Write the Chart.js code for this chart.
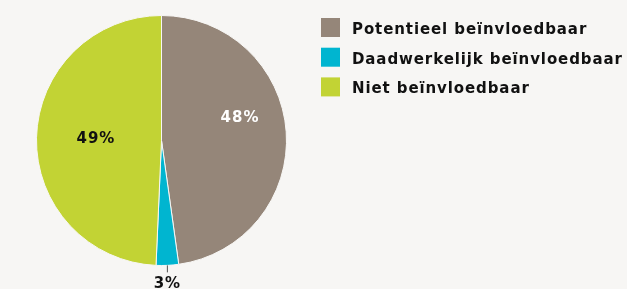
<!DOCTYPE html>
<html>
<head>
<meta charset="utf-8">
<script src="https://cdn.jsdelivr.net/npm/chart.js@4"></script>
<style>
  html, body { margin: 0; padding: 0; background: #f7f6f4; }
  #wrap { width: 627px; height: 289px; position: relative; }
</style>
</head>
<body>
<div id="wrap"><canvas id="pie"></canvas></div>
<script>
// Chart data
const categories = ['Potentieel beïnvloedbaar', 'Daadwerkelijk beïnvloedbaar', 'Niet beïnvloedbaar'];
const shares = [47.8, 2.9, 49.3];
const sliceColors = ['#958679', '#00b5d0', '#c2d334'];

const FONT = '"DejaVu Sans", sans-serif';

// Percent labels on / under the slices
const pctLabels = {
    id: 'pctLabels',
    afterDatasetsDraw(chart) {
        const ctx = chart.ctx;
        const arcs = chart.getDatasetMeta(0).data;
        ctx.save();
        ctx.font = 'bold 15px ' + FONT;
        ctx.letterSpacing = '1px';
        ctx.textAlign = 'center';
        ctx.textBaseline = 'middle';
        arcs.forEach((arc, i) => {
            const p = arc.getProps(['x', 'y', 'startAngle', 'endAngle', 'outerRadius']);
            const mid = (p.startAngle + p.endAngle) / 2;
            const txt = Math.round(shares[i]) + '%';
            if (shares[i] < 10) {
                // small slice: leader line and label outside
                const x = p.x + Math.cos(mid) * p.outerRadius;
                const y = p.y + Math.sin(mid) * p.outerRadius;
                ctx.strokeStyle = '#555';
                ctx.lineWidth = 1;
                ctx.beginPath();
                ctx.moveTo(x, y);
                ctx.lineTo(x, y + 7);
                ctx.stroke();
                ctx.fillStyle = '#111';
                ctx.fillText(txt, x, y + 19);
            } else {
                const f = i === 0 ? 0.63 : 0.525;
                const x = p.x + Math.cos(mid) * p.outerRadius * f;
                const y = p.y + Math.sin(mid) * p.outerRadius * f + (i === 0 ? -17 : 0);
                ctx.fillStyle = i === 0 ? '#ffffff' : '#111';
                ctx.fillText(txt, x, y);
            }
        });
        ctx.restore();
    }
};

// Legend on the right
const sideLegend = {
    id: 'sideLegend',
    afterDraw(chart) {
        const ctx = chart.ctx;
        ctx.save();
        ctx.font = 'bold 15px ' + FONT;
        ctx.letterSpacing = '0.9px';
        ctx.textBaseline = 'middle';
        chart.data.labels.forEach((label, i) => {
            const top = 18 + i * 29.7;
            ctx.fillStyle = sliceColors[i];
            ctx.fillRect(321, top, 19, 19);
            ctx.fillStyle = '#111';
            ctx.fillText(label, 352, top + 12);
        });
        ctx.restore();
    }
};

new Chart(document.getElementById('pie'), {
    type: 'pie',
    data: {
        labels: categories,
        datasets: [{
            data: shares,
            backgroundColor: sliceColors,
            borderColor: '#f7f6f4',
            borderWidth: 1
        }]
    },
    options: {
        responsive: true,
        maintainAspectRatio: false,
        animation: false,
        layout: { padding: { left: 36, right: 340, top: 15, bottom: 23 } },
        plugins: {
            legend: { display: false },
            tooltip: { enabled: false }
        }
    },
    plugins: [pctLabels, sideLegend]
});
</script>
</body>
</html>
